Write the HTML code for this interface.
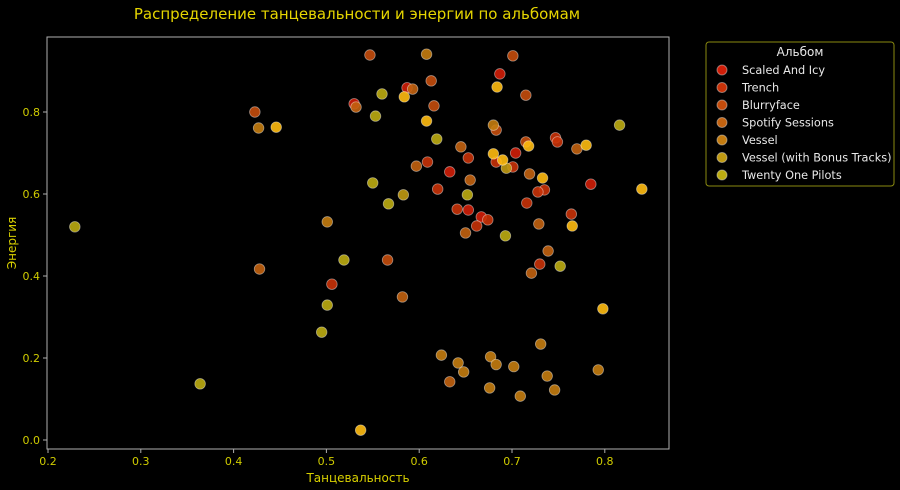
<!DOCTYPE html>
<html><head><meta charset="utf-8">
<style>
html,body{margin:0;padding:0;background:#000;}
svg{display:block;font-family:"Liberation Sans","DejaVu Sans",sans-serif;}
</style></head>
<body>
<svg id="chart" width="900" height="490" viewBox="0 0 900 490" xmlns="http://www.w3.org/2000/svg">
<rect x="0" y="0" width="900" height="490" fill="#000"/>
<text x="357" y="19" text-anchor="middle" font-size="15" fill="#e6d600" font-family="DejaVu Sans, sans-serif">Распределение танцевальности и энергии по альбомам</text>
<g id="points"></g>
<g id="axes"></g>
<text x="358" y="482" text-anchor="middle" font-size="12" fill="#d8d000" font-family="DejaVu Sans, sans-serif">Танцевальность</text>
<text transform="translate(16,243) rotate(-90)" text-anchor="middle" font-size="12" fill="#d8d000" font-family="DejaVu Sans, sans-serif">Энергия</text>
<g>
<rect x="706" y="42" width="188" height="144" rx="3" fill="#000" stroke="#8a8a10" stroke-width="1"/>
<text x="800" y="56" text-anchor="middle" font-size="12" fill="#e8e8e8" font-family="DejaVu Sans, sans-serif">Альбом</text>
<g id="legend-items"></g>
</g>
</svg>
<script>
const seriesNames = ["Scaled And Icy","Trench","Blurryface","Spotify Sessions","Vessel","Vessel (with Bonus Tracks)","Twenty One Pilots","Other"];
const seriesColors = ["#d01e08","#c83208","#c44c0c","#c26210","#c47c10","#c09a12","#bcac12","#ffbb10"];
const scaledX = [0.531,0.588,0.688,0.705,0.634,0.786,0.654,0.668];
const scaledY = [0.820,0.859,0.893,0.700,0.654,0.624,0.561,0.544];
const trenchX = [0.507,0.748,0.750,0.654,0.684,0.702,0.610,0.736,0.729,0.621,0.717,0.642,0.765,0.675,0.663,0.731];
const trenchY = [0.380,0.737,0.727,0.688,0.678,0.666,0.678,0.610,0.605,0.612,0.578,0.563,0.551,0.537,0.522,0.429];
const blurryX = [0.424,0.567,0.548,0.702,0.614,0.716,0.617,0.684,0.716];
const blurryY = [0.800,0.439,0.939,0.937,0.876,0.841,0.815,0.756,0.727];
const spotifyX = [0.429,0.533,0.583,0.594,0.771,0.646,0.598,0.720,0.656,0.730,0.651,0.740,0.722,0.634];
const spotifyY = [0.417,0.812,0.349,0.856,0.710,0.715,0.668,0.649,0.634,0.527,0.505,0.461,0.407,0.142];
const vesselX = [0.428,0.502,0.609,0.681,0.732,0.625,0.643,0.649,0.678,0.684,0.703,0.677,0.710,0.739,0.747,0.794];
const vesselY = [0.761,0.532,0.941,0.768,0.234,0.207,0.188,0.166,0.203,0.184,0.179,0.127,0.107,0.156,0.122,0.171];
const bonusX = [0.584,0.695];
const bonusY = [0.598,0.663];
const topX = [0.230,0.365,0.520,0.502,0.496,0.561,0.554,0.551,0.568,0.817,0.620,0.653,0.694,0.753];
const topY = [0.520,0.137,0.439,0.329,0.263,0.844,0.790,0.627,0.576,0.768,0.734,0.598,0.498,0.424];
const otherX = [0.447,0.538,0.585,0.685,0.609,0.719,0.781,0.681,0.691,0.734,0.841,0.766,0.799];
const otherY = [0.763,0.024,0.837,0.861,0.778,0.717,0.719,0.698,0.683,0.639,0.612,0.522,0.320];
const xTicks = [0.2,0.3,0.4,0.5,0.6,0.7,0.8];
const xTickLabels = ["0.2","0.3","0.4","0.5","0.6","0.7","0.8"];
const yTicks = [0.0,0.2,0.4,0.6,0.8];
const yTickLabels = ["0.0","0.2","0.4","0.6","0.8"];

const NS="http://www.w3.org/2000/svg";
const L=47,R=669,T=37,B=449;
function xs(v){return 47+(v-0.2)*928;}
function ys(v){return 440-v*410;}
const allX=[scaledX,trenchX,blurryX,spotifyX,vesselX,bonusX,topX,otherX];
const allY=[scaledY,trenchY,blurryY,spotifyY,vesselY,bonusY,topY,otherY];
const pts=document.getElementById('points');
allX.forEach((arr,s)=>{
  arr.forEach((v,i)=>{
    const c=document.createElementNS(NS,'circle');
    c.setAttribute('cx',xs(v));c.setAttribute('cy',ys(allY[s][i]));
    c.setAttribute('r',5.3);c.setAttribute('fill',seriesColors[s]);
    c.setAttribute('fill-opacity',0.9);c.setAttribute('stroke','#ffffff');
    c.setAttribute('stroke-opacity',0.45);c.setAttribute('stroke-width',0.8);
    
    
    pts.appendChild(c);
  });
});
const ax=document.getElementById('axes');
function add(tag,attrs,text){const e=document.createElementNS(NS,tag);for(const k in attrs)e.setAttribute(k,attrs[k]);if(text!==undefined)e.textContent=text;ax.appendChild(e);return e;}
const frame=add('rect',{x:L,y:T,width:R-L,height:B-T,fill:'none',stroke:'#b0b0b0','stroke-width':1});


xTicks.forEach((v,i)=>{
  const x=xs(v)+1;
  const tk=add('line',{x1:x,x2:x,y1:B,y2:B+4,stroke:'#b0b0b0'});
  
  
  const t=add('text',{x:x,y:B+16,'text-anchor':'middle','font-size':11,fill:'#d0cc00','font-family':'DejaVu Sans, sans-serif'},xTickLabels[i]);
  
  
});
yTicks.forEach((v,i)=>{
  const y=ys(v);
  const tk=add('line',{x1:L-4,x2:L,y1:y,y2:y,stroke:'#b0b0b0'});
  
  
  const t=add('text',{x:L-7,y:y+4,'text-anchor':'end','font-size':11,fill:'#d0cc00','font-family':'DejaVu Sans, sans-serif'},yTickLabels[i]);
  
  
});
const lg=document.getElementById('legend-items');
seriesNames.slice(0,7).forEach((n,i)=>{
  const y=70+i*17.5;
  const c=document.createElementNS(NS,'circle');
  c.setAttribute('cx',722);c.setAttribute('cy',y);c.setAttribute('r',5);
  c.setAttribute('fill',seriesColors[i]);c.setAttribute('stroke','#fff');c.setAttribute('stroke-opacity',0.4);
  
  
  lg.appendChild(c);
  const t=document.createElementNS(NS,'text');
  t.setAttribute('x',742);t.setAttribute('y',y+4);t.setAttribute('font-size',11.3);
  t.setAttribute('fill','#e8e8e8');t.setAttribute('font-family','DejaVu Sans, sans-serif');
  t.textContent=n;
  
  
  lg.appendChild(t);
});
</script>
</body></html>
